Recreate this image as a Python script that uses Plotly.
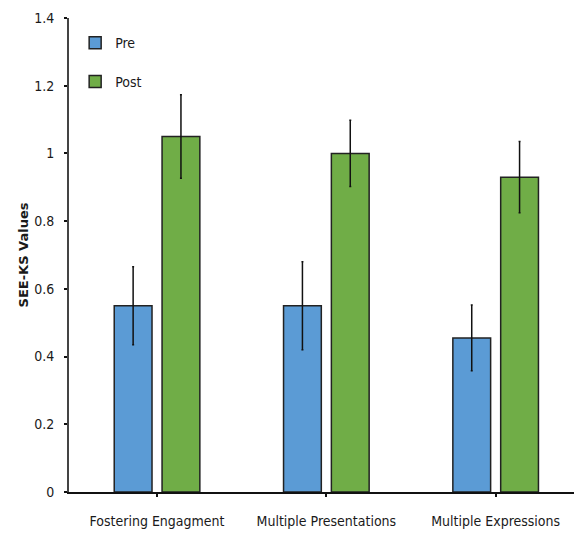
import plotly.graph_objects as go

categories = ["Fostering Engagment", "Multiple Presentations", "Multiple Expressions"]
pre_values = [0.55, 0.55, 0.455]
pre_errors = [0.115, 0.13, 0.097]
post_values = [1.05, 1.0, 0.93]
post_errors = [0.123, 0.098, 0.105]
y_ticks = [0, 0.2, 0.4, 0.6, 0.8, 1, 1.2, 1.4]
y_tick_labels = ["0", "0.2", "0.4", "0.6", "0.8", "1", "1.2", "1.4"]

FONT = "DejaVu Sans Condensed, DejaVu Sans, sans-serif"
TXT = "#1a1a1a"

fig = go.Figure()
fig.add_trace(go.Bar(
    name="Pre", x=categories, y=pre_values,
    marker=dict(color="#5B9BD5", line=dict(color="#222222", width=1.5)),
    error_y=dict(type="data", array=pre_errors, color="#111111", thickness=1.5, width=1),
    legend="legend",
))
fig.add_trace(go.Bar(
    name="Post", x=categories, y=post_values,
    marker=dict(color="#70AD47", line=dict(color="#222222", width=1.5)),
    error_y=dict(type="data", array=post_errors, color="#111111", thickness=1.5, width=1),
    legend="legend2",
))

# page body has an 8px default margin, so the figure is sized to the remaining space
fig.update_layout(
    width=574, height=528,
    margin=dict(l=61, r=0, t=10, b=44),
    paper_bgcolor="white", plot_bgcolor="white",
    barmode="group", bargap=0.435, bargroupgap=0.21,
    font=dict(family=FONT, size=14, color=TXT),
    legend=dict(x=0.012, y=0.947, xanchor="left", yanchor="middle",
                font=dict(family=FONT, size=14, color=TXT),
                bgcolor="rgba(0,0,0,0)", itemwidth=30),
    legend2=dict(x=0.012, y=0.865, xanchor="left", yanchor="middle",
                 font=dict(family=FONT, size=14, color=TXT),
                 bgcolor="rgba(0,0,0,0)", itemwidth=30),
    showlegend=True,
)
fig.update_xaxes(
    range=[-0.52, 2.51], showline=True, linecolor="#111111", linewidth=2,
    ticks="outside", ticklen=3, tickcolor="#111111", tickwidth=2,
    showgrid=False, zeroline=False, ticklabelstandoff=12,
    tickfont=dict(family=FONT, size=14, color=TXT),
)
fig.update_yaxes(
    range=[0, 1.4], tickvals=y_ticks, ticktext=y_tick_labels,
    showline=True, linecolor="#444444", linewidth=2,
    ticks="outside", ticklen=3, tickcolor="#111111", tickwidth=2,
    showgrid=False, zeroline=False, ticklabelstandoff=7,
    tickfont=dict(family=FONT, size=14, color=TXT),
    title=dict(text="<b>SEE-KS Values</b>", font=dict(family="DejaVu Sans, sans-serif", size=13, color=TXT), standoff=3),
)

fig.write_html("out.html")
